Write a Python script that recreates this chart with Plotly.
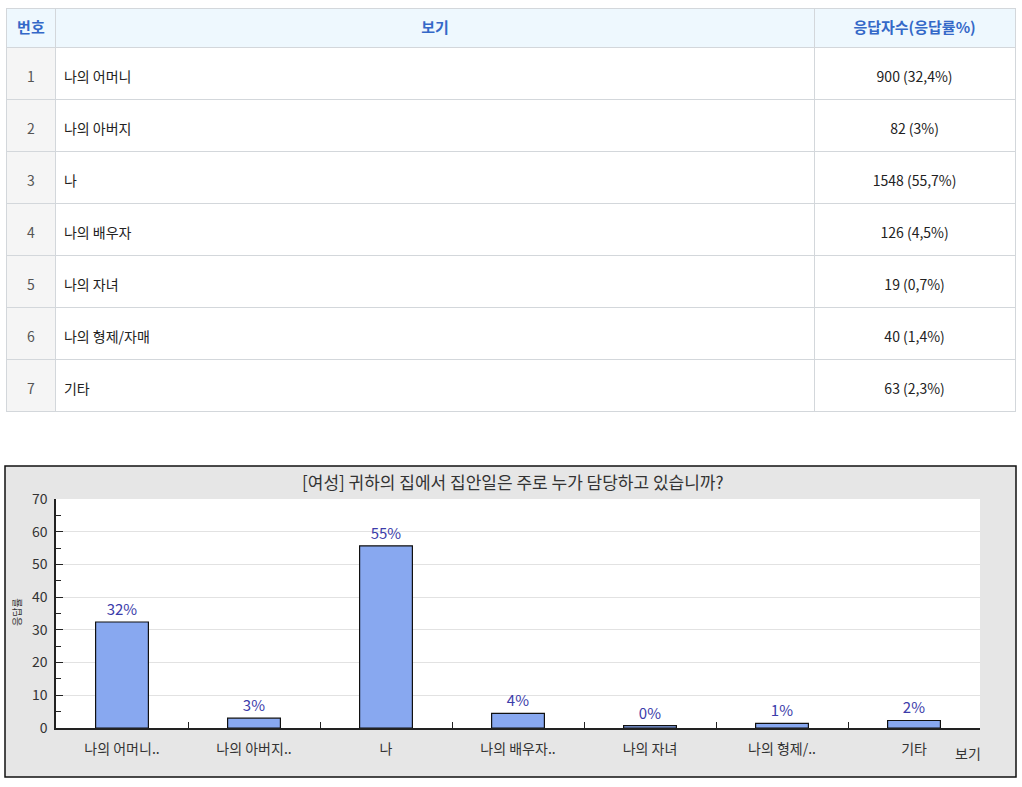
import plotly.graph_objects as go

# 표 데이터
nums = [1, 2, 3, 4, 5, 6, 7]
options = ["나의 어머니", "나의 아버지", "나", "나의 배우자", "나의 자녀", "나의 형제/자매", "기타"]
counts = [900, 82, 1548, 126, 19, 40, 63]
rates = ["32.4", "3", "55.7", "4.5", "0.7", "1.4", "2.3"]

# 차트 데이터
short_labels = ["나의 어머니..", "나의 아버지..", "나", "나의 배우자..", "나의 자녀", "나의 형제/..", "기타"]
pct = [32.4, 3, 55.7, 4.5, 0.7, 1.4, 2.3]

W, H = 1022, 787
FONT = "Noto Sans CJK KR"


def px_x(v):
    return v / W


def px_y(v):
    return 1 - v / H


# 셀 텍스트를 세로 가운데쯤으로: 작은 글꼴 빈 줄 + 14px 본문
def cell(v):
    return "\u00a0<br><span style='font-size:14px'>" + str(v) + "</span>"


answer_txt = [cell(f"{c} ({r.replace('.', ',')}%)") for c, r in zip(counts, rates)]

fig = go.Figure()

fig.add_trace(go.Table(
    domain=dict(x=[px_x(6), px_x(1016)], y=[px_y(414), px_y(8)]),
    columnwidth=[50, 759, 201],
    header=dict(
        values=["<b>번호</b>", "<b>보기</b>", "<b>응답자수(응답률%)</b>"],
        fill_color="#eef8fe",
        line_color="#d3d7db",
        font=dict(family=FONT, size=15, color="#3468c8"),
        align="center",
        height=39,
    ),
    cells=dict(
        values=[[cell(n) for n in nums], [cell(o) for o in options], answer_txt],
        fill_color=[["#f5f5f5"] * 7, ["white"] * 7, ["white"] * 7],
        line_color="#d3d7db",
        font=dict(family=FONT, size=11, color=["#555555", "#222222", "#222222"]),
        align=["center", "left", "center"],
        height=52,
    ),
))

fig.add_trace(go.Bar(
    x=short_labels,
    y=pct,
    width=0.4,
    marker=dict(color="#88a8f0", line=dict(color="#111111", width=1.2)),
    text=[f"{int(v)}%" for v in pct],
    textposition="outside",
    cliponaxis=False,
    textfont=dict(family=FONT, size=15, color="#3c3caa"),
    xaxis="x", yaxis="y",
    showlegend=False,
))

fig.update_layout(
    width=W, height=H,
    margin=dict(l=0, r=0, t=0, b=0, pad=0, autoexpand=False),
    paper_bgcolor="white",
    plot_bgcolor="white",
    font=dict(family=FONT, size=12, color="#222"),
    xaxis=dict(
        domain=[px_x(56), px_x(980)],
        anchor="y",
        automargin=False,
        showline=True, linecolor="#222", linewidth=1.5,
        ticks="inside", tickson="boundaries", ticklen=6, tickcolor="#222",
        ticklabelstandoff=7,
        tickfont=dict(family=FONT, size=14, color="#333"),
        showgrid=False,
    ),
    yaxis=dict(
        domain=[px_y(728), px_y(499)],
        anchor="x",
        automargin=False,
        range=[0, 70],
        dtick=10,
        showline=True, linecolor="#222", linewidth=1.5,
        ticks="inside", ticklen=7, tickcolor="#222",
        minor=dict(dtick=5, ticks="inside", ticklen=5, tickcolor="#222", showgrid=False),
        tickfont=dict(family=FONT, size=14, color="#333"),
        ticklabelstandoff=4,
        gridcolor="#e2e2e2",
        zeroline=False,
    ),
    shapes=[
        dict(type="rect", xref="paper", yref="paper",
             x0=px_x(5), x1=px_x(1016), y0=px_y(777), y1=px_y(466),
             fillcolor="#e6e6e6", line=dict(color="#111", width=1.5), layer="below"),
        dict(type="rect", xref="x domain", yref="y domain",
             x0=0, x1=1, y0=0, y1=1,
             fillcolor="white", line=dict(width=0), layer="below"),
    ],
    annotations=[
        dict(text="[여성] 귀하의 집에서 집안일은 주로 누가 담당하고 있습니까?",
             xref="paper", yref="paper", x=px_x(513), y=px_y(481),
             xanchor="center", yanchor="middle",
             showarrow=False, font=dict(family=FONT, size=17, color="#333")),
        dict(text="보기", xref="paper", yref="paper", x=px_x(968), y=px_y(753),
             xanchor="center", yanchor="middle",
             showarrow=False, font=dict(family=FONT, size=14, color="#333")),
        dict(text="응답률", xref="paper", yref="paper", x=px_x(16), y=px_y(612),
             xanchor="center", yanchor="middle",
             showarrow=False, textangle=-90, font=dict(family=FONT, size=10, color="#333")),
    ],
)

fig.write_html("out.html", config={"displayModeBar": False},
               post_script="document.body.style.margin='0';")
